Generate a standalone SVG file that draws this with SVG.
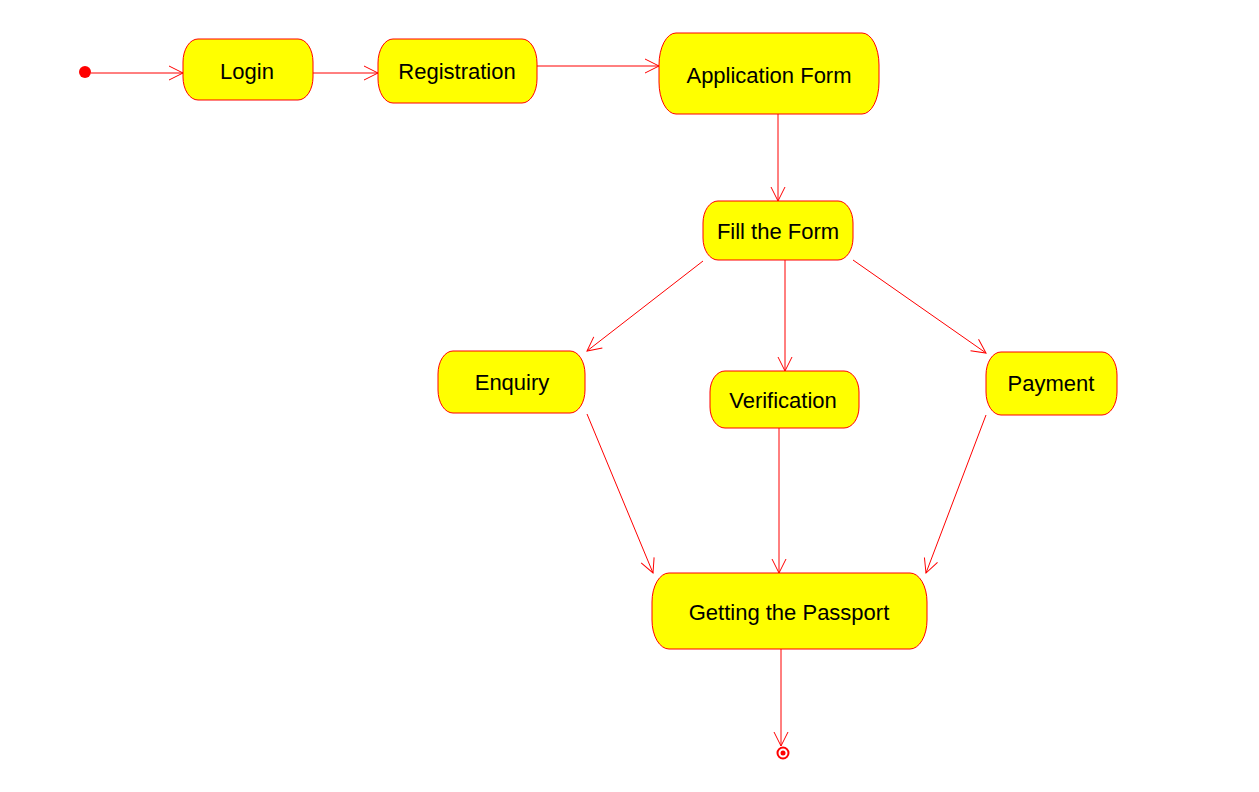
<svg xmlns="http://www.w3.org/2000/svg" width="1259" height="792" viewBox="0 0 1259 792">
<style>
.n{fill:#ffff00;stroke:#ff0000;stroke-width:1}
.t{font-family:"Liberation Sans",Arial,sans-serif;font-size:22px;fill:#000;text-anchor:middle}
.c{stroke:#ff0000;stroke-width:1;fill:none;marker-end:url(#a)}
</style>
<defs>
<marker id="a" markerUnits="userSpaceOnUse" markerWidth="20" markerHeight="20" refX="15" refY="8" orient="auto">
<path d="M1,1 L15,8 L1,15" fill="none" stroke="#ff0000" stroke-width="1"/>
</marker>
</defs>
<rect width="1259" height="792" fill="#fff"/>
<g id="connectors">
<line class="c" x1="91" y1="73" x2="183" y2="73"/>
<line class="c" x1="313" y1="73" x2="378" y2="73"/>
<line class="c" x1="537" y1="66" x2="659" y2="66"/>
<line class="c" x1="778" y1="114" x2="778" y2="201"/>
<line class="c" x1="703" y1="261" x2="587" y2="351"/>
<line class="c" x1="785" y1="260" x2="785" y2="371"/>
<line class="c" x1="853" y1="260" x2="986" y2="353"/>
<line class="c" x1="587" y1="414" x2="653" y2="573"/>
<line class="c" x1="779" y1="428" x2="779" y2="573"/>
<line class="c" x1="986" y1="415" x2="926" y2="573"/>
<line class="c" x1="781" y1="649" x2="781" y2="746"/>
</g>
<g id="start"><circle cx="85" cy="72" r="6" fill="#ff0000"/></g>
<g id="login"><rect class="n" x="183" y="39" width="130" height="61" rx="15" ry="23"/><text class="t" x="247" y="79">Login</text></g>
<g id="registration"><rect class="n" x="378" y="39" width="159" height="64" rx="15" ry="24"/><text class="t" x="457" y="79">Registration</text></g>
<g id="application"><rect class="n" x="659" y="33" width="220" height="81" rx="17" ry="32"/><text class="t" x="769" y="83">Application Form</text></g>
<g id="fill"><rect class="n" x="703" y="201" width="150" height="59" rx="15" ry="22"/><text class="t" x="778" y="239">Fill the Form</text></g>
<g id="enquiry"><rect class="n" x="438" y="351" width="147" height="62" rx="15" ry="23"/><text class="t" x="512" y="390">Enquiry</text></g>
<g id="verification"><rect class="n" x="710" y="371" width="149" height="57" rx="15" ry="21"/><text class="t" x="783" y="408">Verification</text></g>
<g id="payment"><rect class="n" x="986" y="352" width="131" height="63" rx="15" ry="23"/><text class="t" x="1051" y="391">Payment</text></g>
<g id="passport"><rect class="n" x="652" y="573" width="275" height="76" rx="17" ry="29"/><text class="t" x="789" y="620">Getting the Passport</text></g>
<g id="end"><circle cx="783" cy="753" r="5.5" fill="none" stroke="#ff0000" stroke-width="2"/><circle cx="783" cy="753" r="2.5" fill="#ff0000"/></g>
</svg>
